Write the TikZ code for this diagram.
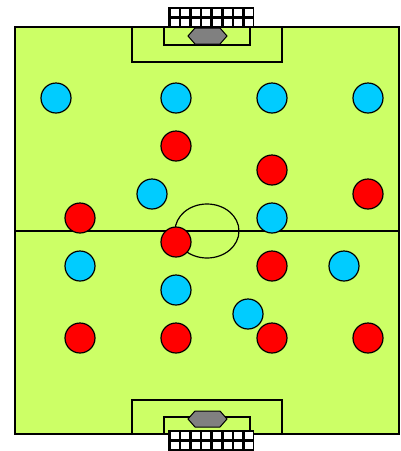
\documentclass[tikz,border=0pt]{standalone}
\usetikzlibrary{positioning}

\definecolor{pitch}{RGB}{204,255,102}
\definecolor{teamblue}{RGB}{0,204,255}
\definecolor{teamred}{RGB}{255,0,0}
\definecolor{keeper}{RGB}{128,128,128}

\tikzset{
    player/.style={circle, draw=black, line width=1.2pt, minimum size=30pt, inner sep=0pt},
    blueplayer/.style={player, fill=teamblue},
    redplayer/.style={player, fill=teamred},
    pitchline/.style={draw=black, line width=1.2pt},
}

\begin{document}
\begin{tikzpicture}[x=1pt, y=-1pt]
    \useasboundingbox (0,0) rectangle (400,451);

    % ===== Pitch =====
    \fill[pitch] (15,27) rectangle (399,434);
    \draw[pitchline] (15,27) rectangle (399,434);
    \draw[pitchline] (15,231) -- (399,231);
    \draw[pitchline] (207,231) ellipse (32 and 27);

    % penalty and goal areas (top)
    \draw[pitchline] (132,27) -- (132,62) -- (282,62) -- (282,27);
    \draw[pitchline] (164,27) -- (164,45) -- (250,45) -- (250,27);
    % penalty and goal areas (bottom)
    \draw[pitchline] (132,434) -- (132,400) -- (282,400) -- (282,434);
    \draw[pitchline] (164,434) -- (164,417) -- (250,417) -- (250,434);

    % ===== Goals =====
    \foreach \gy in {7, 430} {
        \fill[black] (168,\gy) rectangle (254,\gy+21);
        \foreach \i in {0,...,7}
            \foreach \j in {0,1}
                \fill[white] (170.5+\i*10.6,\gy+2+\j*10) rectangle (178.5+\i*10.6,\gy+9+\j*10);
    }

    % keepers
    \draw[fill=keeper, line width=1pt] (188,36) -- (195,28) -- (220,28) -- (227,36)
        -- (220,44) -- (195,44) -- cycle;
    \draw[fill=keeper, line width=1pt] (188,419) -- (195,411) -- (220,411) -- (227,419)
        -- (220,427) -- (195,427) -- cycle;

    % ===== Blue team =====
    \node[blueplayer] (b1) at (56,98) {};
    \node[blueplayer] (b2) at (176,98) {};
    \node[blueplayer] (b3) at (272,98) {};
    \node[blueplayer] (b4) at (368,98) {};
    \node[blueplayer] (b5) at (152,194) {};
    \node[blueplayer] (b6) at (272,218) {};
    \node[blueplayer] (b7) at (80,266) {};
    \node[blueplayer] (b8) at (344,266) {};
    \node[blueplayer] (b9) at (176,290) {};
    \node[blueplayer] (b10) at (248,314) {};

    % ===== Red team =====
    \node[redplayer] (r1) at (176,146) {};
    \node[redplayer] (r2) at (272,170) {};
    \node[redplayer] (r3) at (368,194) {};
    \node[redplayer] (r4) at (80,218) {};
    \node[redplayer] (r5) at (176,242) {};
    \node[redplayer] (r6) at (272,266) {};
    \node[redplayer] (r7) at (80,338) {};
    \node[redplayer] (r8) at (176,338) {};
    \node[redplayer] (r9) at (272,338) {};
    \node[redplayer] (r10) at (368,338) {};

\end{tikzpicture}
\end{document}
